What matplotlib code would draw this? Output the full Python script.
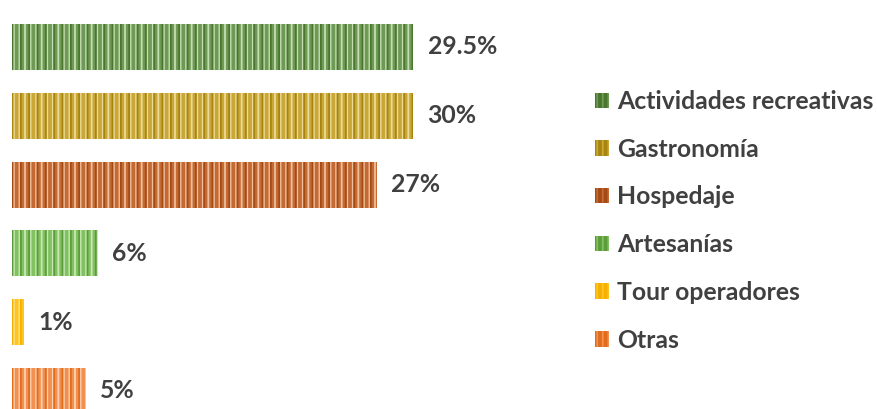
import matplotlib
matplotlib.use("Agg")
import matplotlib.pyplot as plt
from matplotlib.patches import Patch

categories = ["Actividades recreativas", "Gastronomía", "Hospedaje",
              "Artesanías", "Tour operadores", "Otras"]
values = [30.0, 30.0, 27.3, 6.4, 0.9, 5.5]
value_labels = ["29.5%", "30%", "27%", "6%", "1%", "5%"]

base_colors = ["#6f9956", "#c9a738", "#c46a35", "#82c162", "#ffc422", "#f19050"]
light_colors = ["#c4ddb0", "#ecdb96", "#efbf9c", "#c8e8b4", "#ffe48a", "#fbd0b0"]
dark_colors = ["#4a772e", "#a8850e", "#a44a14", "#5c9c3a", "#f5b000", "#e06c1c"]

plt.rcParams["font.family"] = ["Lato", "DejaVu Sans"]
plt.rcParams["hatch.linewidth"] = 1.3

W, H = 878, 409
fig = plt.figure(figsize=(W / 100, H / 100), dpi=100)
ax_w_px = 560
ax = fig.add_axes([12 / W, 0, ax_w_px / W, 1])
px_per_unit = 401 / 30.0
ax.set_xlim(0, ax_w_px / px_per_unit)
spacing = 68.8
ax.set_ylim((H - 47) / spacing, -47 / spacing)

ypos = list(range(len(categories)))
for i, (cat, v) in enumerate(zip(categories, values)):
    ax.barh(ypos[i], v, height=0.67, color=base_colors[i],
            edgecolor=light_colors[i], hatch="|||", linewidth=0, label=cat)
    ax.barh(ypos[i], v, height=0.67, facecolor="none",
            edgecolor=dark_colors[i], hatch="||", linewidth=0)
    ax.annotate(value_labels[i], xy=(v, ypos[i]), xytext=(10.5, 0),
                textcoords="offset points", va="center", ha="left",
                fontsize=17.8, fontweight="bold", color="#404040",
                annotation_clip=False)

for s in ax.spines.values():
    s.set_visible(False)
ax.set_xticks([])
ax.set_yticks([])

leg_handles = [Patch(facecolor=dark_colors[i], edgecolor=base_colors[i],
                     hatch="|||", linewidth=0) for i in range(len(categories))]
leg = fig.legend(leg_handles, categories, loc="upper left",
                 bbox_to_anchor=(595 / W, 1 - 90 / H), frameon=False,
                 fontsize=17.8, handlelength=0.58, handleheight=0.58,
                 handletextpad=0.3, labelspacing=1.0, borderpad=0,
                 borderaxespad=0)
for t in leg.get_texts():
    t.set_color("#404040")
    t.set_fontweight("bold")

fig.savefig("out.png", dpi=100)
